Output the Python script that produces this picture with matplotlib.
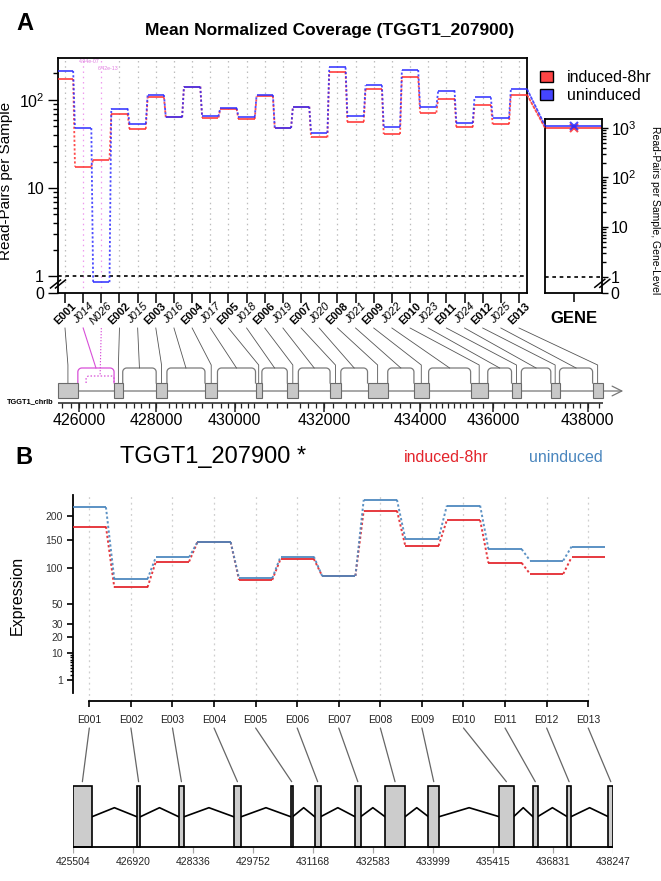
import numpy as np
import matplotlib
matplotlib.use("Agg")
import matplotlib.pyplot as plt
from matplotlib.patches import Rectangle, Patch, ConnectionPatch


W, H = 661, 881

plt.rcParams["font.family"] = ["Liberation Sans", "DejaVu Sans"]
plt.rcParams["mathtext.fontset"] = "custom"
plt.rcParams["mathtext.rm"] = "Liberation Sans"
plt.rcParams["mathtext.it"] = "Liberation Sans:italic"

# ---------------- data ----------------
feature_ids = ["E001", "J014", "N026", "E002", "J015", "E003", "J016", "E004",
               "J017", "E005", "J018", "E006", "J019", "E007", "J020", "E008",
               "J021", "E009", "J022", "E010", "J023", "E011", "J024", "E012",
               "J025", "E013"]
cov_induced = [173, 17.5, 21, 69, 47, 107, 63.5, 142, 63, 79, 61, 110, 48, 84,
               37.6, 206, 56.5, 133, 41, 184, 72, 103.5, 49, 87.7, 53, 114]
cov_uninduced = [214, 48, 0.64, 80, 54, 114, 63.5, 142, 65, 81, 64.5, 114, 48,
                 84, 42.5, 234, 65, 147, 49.7, 219, 84, 128, 55, 107, 62.4, 132]
sig_pvalues = {"J014": "4.94e-07", "N026": "6.42e-13"}
gene_induced = 1000
gene_uninduced = 1110

exon_ids = ["E001", "E002", "E003", "E004", "E005", "E006", "E007",
            "E008", "E009", "E010", "E011", "E012", "E013"]
exon_start = [425504, 427014, 428000, 429297, 430642, 431208, 432158,
              432866, 433890, 435557, 436352, 437161, 438129]
exon_end = [425960, 427101, 428134, 429478, 430689, 431349, 432292,
            433338, 434140, 435897, 436463, 437249, 438247]
novel_junction = (426200, 427014)

expr_induced = [176.6, 71.2, 110, 145, 81.4, 114.5, 87.3, 212, 138, 190.5,
                107.8, 90.3, 117.5]
expr_uninduced = [220, 82.9, 117.5, 145, 83.9, 118.5, 87.3, 238, 152, 224,
                  131.8, 111.7, 136.6]

genome_ticks_a = [426000, 428000, 430000, 432000, 434000, 436000, 438000]
genome_ticks_b = [425504, 426920, 428336, 429752, 431168, 432583, 433999,
                  435415, 436831, 438247]

RED_A, BLUE_A = "#FF2D2D", "#2D2DFF"
RED_B, BLUE_B = "#E3242B", "#4A86BE"
PINK, PINK_LIGHT = "#D84FD8", "#EE9AEE"


def rect(l, t, r, b):
    return [l / W, 1 - b / H, (r - l) / W, (b - t) / H]


fig = plt.figure(figsize=(W / 100, H / 100), dpi=100)

# ================= Panel A : coverage =================
AX_A = (58, 58, 527, 293)
XLIM_A = (-0.385, 25.44)
ZERO_A = -0.193


def ytr_a(v):
    v = np.asarray(v, float)
    return np.where(v >= 1, np.log10(np.maximum(v, 1)), ZERO_A * (1 - v))


ax = fig.add_axes(rect(*AX_A))
ax.set_xlim(*XLIM_A)
ax.set_ylim(ZERO_A, 2.477)
n = len(feature_ids)
xf = np.arange(n)

for i, fid in enumerate(feature_ids):
    col = PINK_LIGHT if fid in sig_pvalues else "#BDBDBD"
    ax.axvline(i, color=col, ls=(0, (1.2, 3)), lw=0.9, zorder=1)
ax.axhline(0, color="black", ls=(0, (2.2, 2.2)), lw=1.2, zorder=2)

for vals, col in ((cov_induced, RED_A), (cov_uninduced, BLUE_A)):
    y = ytr_a(vals)
    ax.hlines(y, xf - 0.45, xf + 0.45, colors=col, lw=1.3, alpha=0.85, zorder=3)
    xs = np.vstack([xf[:-1] + 0.45, xf[1:] - 0.45])
    ys = np.vstack([y[:-1], y[1:]])
    ax.plot(xs, ys, color=col, ls=(0, (1.2, 1.2)), lw=1.3, alpha=0.85, zorder=3)

for fid, p in sig_pvalues.items():
    i = feature_ids.index(fid)
    yy = 0.985 if fid == "J014" else 0.955
    ax.text(i + 0.35, yy, p, transform=ax.get_xaxis_transform(), color="#E07FE0",
            fontsize=3.8, ha="center", va="center")

major_a = [ZERO_A, 0, 1, 2]
ax.set_yticks(major_a, ["0", "1", "10", "$10^2$"])
minor_a = [np.log10(k * 10 ** d) for d in range(3) for k in range(2, 10)
           if np.log10(k * 10 ** d) < 2.477]
ax.set_yticks(minor_a, minor=True)
ax.tick_params(axis="y", which="major", length=7, width=1, labelsize=11.5, pad=3)
ax.tick_params(axis="y", which="minor", length=3.5, width=1)
ax.set_xticks(xf, [""] * n)
ax.tick_params(axis="x", length=7, width=1.1)
for s in ax.spines.values():
    s.set_linewidth(1.3)

for i, fid in enumerate(feature_ids):
    bold = fid.startswith("E")
    ax.text(i, -0.088, fid, transform=ax.get_xaxis_transform(), rotation=45,
            ha="center", va="center", fontsize=8,
            fontweight="bold" if bold else "normal",
            fontstyle="normal" if bold else "italic")

ax.set_ylabel("Read-Pairs per Sample", fontsize=11)
ax.yaxis.set_label_coords(-0.097, 0.477)

aw, ah = AX_A[2] - AX_A[0], AX_A[3] - AX_A[1]
for off in (-2.5, 2.5):
    ax.plot([(-5 + off) / aw, (5 + off) / aw], [(9 - 4) / ah, (9 + 4) / ah],
            transform=ax.transAxes, color="black", lw=1.1, clip_on=False)

# gene-level panel
AX_G = (545, 119.3, 602.3, 292.7)
ZERO_G = -0.323
ax_g = fig.add_axes(rect(*AX_G))
ax_g.set_xlim(-1, 1)
ax_g.set_ylim(ZERO_G, 3.173)
ax_g.axhline(0, color="black", ls=(0, (2.2, 2.2)), lw=1.2)
for val, col in ((gene_induced, RED_A), (gene_uninduced, BLUE_A)):
    ax_g.hlines(np.log10(val), -1, 1, colors=col, lw=1.3, alpha=0.85)
    ax_g.plot([0], [np.log10(val)], marker="x", color=col, ms=6, mew=1.5, alpha=0.85)
ax_g.yaxis.tick_right()
ax_g.set_yticks([ZERO_G, 0, 1, 2, 3], ["0", "1", "10", "$10^2$", "$10^3$"])
ax_g.set_yticks([np.log10(k * 10 ** d) for d in range(4) for k in range(2, 10)
                 if np.log10(k * 10 ** d) < 3.173], minor=True)
ax_g.tick_params(axis="y", which="major", length=4.5, width=1, labelsize=11.5, pad=1.5)
ax_g.tick_params(axis="y", which="minor", length=3, width=1)
ax_g.set_xticks([0], [""])
ax_g.tick_params(axis="x", length=6.5, width=1.1)
for s in ax_g.spines.values():
    s.set_linewidth(1.3)
ax_g.text(0, -0.147, "GENE", transform=ax_g.get_xaxis_transform(), ha="center",
          va="center", fontsize=12, fontweight="bold")
gw, gh = AX_G[2] - AX_G[0], AX_G[3] - AX_G[1]
for off in (-2.5, 2.5):
    ax_g.plot([1 + (-5 + off) / gw, 1 + (5 + off) / gw],
              [(9.4 - 4) / gh, (9.4 + 4) / gh],
              transform=ax_g.transAxes, color="black", lw=1.1, clip_on=False)
fig.text(655 / W, 1 - 210 / H, "Read-Pairs per Sample, Gene-Level", rotation=270,
         ha="center", va="center", fontsize=7.5)

for vals, gval, col in ((cov_induced, gene_induced, RED_A),
                        (cov_uninduced, gene_uninduced, BLUE_A)):
    con = ConnectionPatch((n - 1 + 0.45, float(ytr_a(vals[-1]))), (-1, np.log10(gval)),
                          coordsA=ax.transData, coordsB=ax_g.transData,
                          color=col, ls=(0, (1.2, 1.2)), lw=1.3, alpha=0.85)
    fig.add_artist(con)

fig.legend(handles=[Patch(fc="#FF4545", ec="black", lw=1),
                    Patch(fc="#4545FF", ec="black", lw=1)],
           labels=["induced-8hr", "uninduced"], loc="upper left",
           bbox_to_anchor=(540 / W, 1 - 70 / H), frameon=False, fontsize=11.5,
           handlelength=0.8, handleheight=0.75, handletextpad=0.9,
           labelspacing=0.2, borderpad=0, borderaxespad=0)

fig.text(330 / W, 1 - 30 / H, "Mean Normalized Coverage (TGGT1_207900)",
         ha="center", va="center", fontsize=12.5, fontweight="bold")
fig.text(25 / W, 1 - 24 / H, "A", ha="center", va="center", fontsize=17,
         fontweight="bold")

# ---------------- Panel A : gene model (compressed introns) ----------------
ax_gm = fig.add_axes([0, 1 - 432 / H, 1, (432 - 318) / H])
ax_gm.set_xlim(0, W)
ax_gm.set_ylim(432, 318)
ax_gm.axis("off")

bps = np.ravel(np.column_stack([exon_start, exon_end]))
seg = np.diff(bps)
w = np.sqrt(seg) * np.where(np.arange(len(seg)) % 2 == 0, 0.93, 1.116)
cum = np.concatenate([[0], np.cumsum(w)])
GM_L, GM_R = 58, 602.7
px_break = GM_L + cum / cum[-1] * (GM_R - GM_L)


def bp2px(b):
    return np.interp(b, bps, px_break)


EX_TOP, EX_BOT, MID_Y, ARC_TOP = 383, 398, 391, 368

ax_gm.annotate("", xy=(626, MID_Y), xytext=(GM_L, MID_Y),
               arrowprops=dict(arrowstyle="->,head_length=0.7,head_width=0.35",
                               color="#777777", lw=0.9))


def bridge(x1, x2, ytop, ybase, r=4.0):
    t = np.linspace(0, np.pi / 2, 10)
    left = np.column_stack([x1 + r - r * np.cos(t), ytop + r - r * np.sin(t)])
    right = np.column_stack([x2 - r + r * np.cos(t[::-1]), ytop + r - r * np.sin(t[::-1])])
    pts = np.vstack([[x1, ybase], left, right, [x2, ybase]])
    return pts[:, 0], pts[:, 1]


ex_l = bp2px(exon_start)
ex_r = bp2px(exon_end)
for k in range(len(exon_ids) - 1):
    bx, by = bridge(ex_r[k], ex_l[k + 1], ARC_TOP, EX_TOP)
    col = PINK if k == 0 else "#7A7A7A"
    ax_gm.plot(bx, by, color=col, lw=0.9)
nx1, nx2 = bp2px(novel_junction[0]), bp2px(novel_junction[1])
bx, by = bridge(nx1, nx2, 376, EX_TOP, r=3)
ax_gm.plot(bx, by, color=PINK, lw=0.9, ls=(0, (1.2, 1.5)))

for l, r in zip(ex_l, ex_r):
    ax_gm.add_patch(Rectangle((l, EX_TOP), r - l, EX_BOT - EX_TOP, fc="#C8C8C8",
                              ec="#6A6A6A", lw=0.8, zorder=3))

# label leader lines
for i, fid in enumerate(feature_ids):
    tick_px = AX_A[0] + (i - XLIM_A[0]) / (XLIM_A[1] - XLIM_A[0]) * aw
    if fid.startswith("E"):
        k = exon_ids.index(fid)
        tx = (ex_l[k] + ex_r[k]) / 2
        ax_gm.plot([tick_px, tx, tx], [328, 365, EX_TOP], color="#555555", lw=0.6)
    elif fid.startswith("N"):
        tx = (nx1 + nx2) / 2
        ax_gm.plot([tick_px, tx], [328, 376], color=PINK, lw=0.8, ls=(0, (1.2, 1.5)))
    else:
        k = exon_ids.index(feature_ids[i - 1]) if feature_ids[i - 1].startswith("E") else 0
        tx = (ex_r[k] + ex_l[k + 1]) / 2
        col = PINK if fid in sig_pvalues else "#555555"
        ax_gm.plot([tick_px, tx], [328, ARC_TOP], color=col, lw=0.6 if col != PINK else 0.8)

AXIS_Y = 403
ax_gm.hlines(AXIS_Y, GM_L, GM_R, color="#222222", lw=1.1)
minor_bp = np.arange(425600, 438247, 200)
ax_gm.vlines(bp2px(minor_bp), AXIS_Y, AXIS_Y + 5, color="#222222", lw=0.9)
ax_gm.vlines(bp2px(genome_ticks_a), AXIS_Y, AXIS_Y + 9, color="#222222", lw=1.1)
for t in genome_ticks_a:
    ax_gm.text(bp2px(t), 421, str(t), ha="center", va="center", fontsize=11.5)
ax_gm.text(54, 402, "TGGT1_chrIb", ha="right", va="center", fontsize=5.3,
           fontweight="bold")

# ================= Panel B : expression =================
AX_B = (72.7, 495, 609, 692.8)
ax_b = fig.add_axes(rect(*AX_B))
ax_b.set_yscale("function", functions=(lambda v: np.sqrt(np.clip(v, 0, None)), np.square))
ax_b.set_ylim(0, 250)
ax_b.set_xlim(0.6, 13.5)
xb = np.arange(1, len(exon_ids) + 1)

ax_b.vlines(xb, -0.04, 1, transform=ax_b.get_xaxis_transform(), color="#CFCFCF",
            ls=(0, (1.5, 3)), lw=0.9, clip_on=False, zorder=1)
for vals, col in ((expr_induced, RED_B), (expr_uninduced, BLUE_B)):
    v = np.asarray(vals, float)
    ax_b.hlines(v, xb - 0.4, xb + 0.4, colors=col, lw=1.4, alpha=0.9, zorder=3)
    xs = np.vstack([xb[:-1] + 0.4, xb[1:] - 0.4])
    ys = np.vstack([v[:-1], v[1:]])
    ax_b.plot(xs, ys, color=col, ls=(0, (1.2, 1.2)), lw=1.4, alpha=0.9, zorder=3)

ax_b.set_yticks([1, 10, 20, 30, 50, 100, 150, 200],
                ["1", "10", "20", "30", "50", "100", "150", "200"])
ax_b.set_yticks(list(range(2, 10)), minor=True)
ax_b.tick_params(axis="y", which="major", length=4, width=1.2, labelsize=7.5,
                 pad=3, labelcolor="#333333")
ax_b.tick_params(axis="y", which="minor", length=2.5, width=1.0, labelleft=False)
ax_b.set_xticks(xb, exon_ids)
ax_b.tick_params(axis="x", length=4.5, width=1.2, labelsize=7.5, pad=6,
                 labelcolor="#222222")
ax_b.spines["top"].set_visible(False)
ax_b.spines["right"].set_visible(False)
ax_b.spines["left"].set_linewidth(1.3)
ax_b.spines["bottom"].set_linewidth(1.3)
ax_b.spines["bottom"].set_position(("outward", 5.8))
ax_b.spines["bottom"].set_bounds(1, len(exon_ids))
ax_b.set_ylabel("Expression", fontsize=11.5)
ax_b.yaxis.set_label_coords(-0.089, 0.49)

fig.text(24 / W, 1 - 457 / H, "B", ha="center", va="center", fontsize=17,
         fontweight="bold")
fig.text(120 / W, 1 - 457 / H, "TGGT1_207900 *", ha="left", va="center", fontsize=17)
fig.text(404 / W, 1 - 457 / H, "induced-8hr", ha="left", va="center", fontsize=11.5,
         color=RED_B)
fig.text(528.5 / W, 1 - 457 / H, "uninduced", ha="left", va="center", fontsize=11.5,
         color=BLUE_B)

# ---------------- Panel B : gene model (linear) ----------------
AX_GB = (72.7, 712, 613.3, 875)
ax_gb = fig.add_axes(rect(*AX_GB))
ax_gb.set_xlim(exon_start[0], exon_end[-1])
ax_gb.set_ylim(875, 712)
ax_gb.axis("off")

B_TOP, B_BOT, B_IN, B_PEAK = 786, 847.3, 816.7, 807.7
for k in range(len(exon_ids) - 1):
    mid = (exon_end[k] + exon_start[k + 1]) / 2
    ax_gb.plot([exon_end[k], mid, exon_start[k + 1]], [B_IN, B_PEAK, B_IN],
               color="black", lw=1.2)
for s, e in zip(exon_start, exon_end):
    ax_gb.add_patch(Rectangle((s, B_TOP), e - s, B_BOT - B_TOP, fc="#CCCCCC",
                              ec="black", lw=1.2, zorder=3))
ax_gb.hlines(B_BOT, exon_start[0], exon_end[-1], color="black", lw=1.3, zorder=4)
ax_gb.vlines(genome_ticks_b, B_BOT, B_BOT + 6, color="#A8A8A8", lw=0.9)
for t in genome_ticks_b:
    ax_gb.text(t, 862, str(t), ha="center", va="center", fontsize=7.5,
               color="#222222", clip_on=False)

ya = (AX_B[3] - 728) / (AX_B[3] - AX_B[1])
for k, (s, e) in enumerate(zip(exon_start, exon_end)):
    con = ConnectionPatch((xb[k], ya), ((s + e) / 2, 781.7),
                          coordsA=ax_b.get_xaxis_transform(), coordsB=ax_gb.transData,
                          color="#666666", lw=0.9)
    fig.add_artist(con)

fig.savefig("out.png", dpi=100)
